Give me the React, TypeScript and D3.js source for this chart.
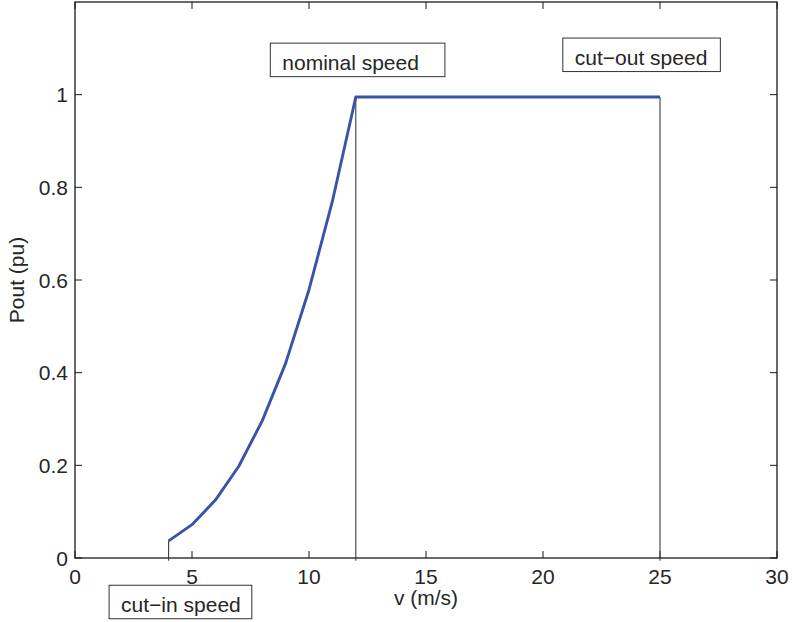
import React, { useEffect, useRef } from "react";
import * as d3 from "d3";

// wind speed (m/s) and output power (pu)
const speeds = [4, 5, 6, 7, 8, 9, 10, 11, 12, 25];
const power = [0.037, 0.072, 0.125, 0.198, 0.296, 0.42, 0.579, 0.77, 0.995, 0.995];

// vertical marker lines at cut-in, nominal and cut-out speed
const markers = [4, 12, 25];

const xTicks = [0, 5, 10, 15, 20, 25, 30];
const yTicks = [0, 0.2, 0.4, 0.6, 0.8, 1];

// text annotations (anchor in data units)
const notes = [
  { label: "cut\u2212in speed", x: 1.97, y: -0.116, padRight: 11 },
  { label: "nominal speed", x: 8.86, y: 1.054, padRight: 26 },
  { label: "cut\u2212out speed", x: 21.36, y: 1.065, padRight: 13 },
];

const App = () => {
  const ref = useRef<SVGSVGElement>(null);
  const width = 792;
  const height = 622;
  const font = "'Liberation Sans', Arial, Helvetica, sans-serif";
  const fs = 21;
  const ink = "#262626";

  useEffect(() => {
    const svg = d3.select(ref.current);
    svg.selectAll("*").remove();

    const x = d3.scaleLinear().domain([0, 30]).range([75, 777]);
    const y = d3.scaleLinear().domain([0, 1.2]).range([558, 2]);

    const g = svg.append("g");

    // frame
    g.append("rect")
      .attr("x", x(0))
      .attr("y", y(1.2))
      .attr("width", x(30) - x(0))
      .attr("height", y(0) - y(1.2))
      .attr("fill", "white")
      .attr("stroke", "#1a1a1a")
      .attr("stroke-width", 1.3);

    // inward ticks on all sides
    const tl = 7;
    xTicks.forEach((t) => {
      g.append("line").attr("x1", x(t)).attr("x2", x(t)).attr("y1", y(0)).attr("y2", y(0) - tl).attr("stroke", "#1a1a1a");
      g.append("line").attr("x1", x(t)).attr("x2", x(t)).attr("y1", y(1.2)).attr("y2", y(1.2) + tl).attr("stroke", "#1a1a1a");
      g.append("text")
        .attr("x", x(t))
        .attr("y", y(0) + 26)
        .attr("text-anchor", "middle")
        .attr("font-family", font)
        .attr("font-size", fs)
        .attr("fill", ink)
        .text(d3.format("")(t));
    });
    yTicks.forEach((t) => {
      g.append("line").attr("x1", x(0)).attr("x2", x(0) + tl).attr("y1", y(t)).attr("y2", y(t)).attr("stroke", "#1a1a1a");
      g.append("line").attr("x1", x(30)).attr("x2", x(30) - tl).attr("y1", y(t)).attr("y2", y(t)).attr("stroke", "#1a1a1a");
      g.append("text")
        .attr("x", x(0) - 7)
        .attr("y", y(t) + 7.5)
        .attr("text-anchor", "end")
        .attr("font-family", font)
        .attr("font-size", fs)
        .attr("fill", ink)
        .text(String(t));
    });

    // marker lines
    markers.forEach((m) => {
      const i = speeds.indexOf(m);
      g.append("line")
        .attr("x1", x(m))
        .attr("x2", x(m))
        .attr("y1", y(power[i]))
        .attr("y2", y(-0.006))
        .attr("stroke", "#3c3c3c")
        .attr("stroke-width", 1.1);
    });

    // power curve
    const line = d3
      .line<number>()
      .x((d, i) => x(speeds[i]))
      .y((d) => y(d));
    g.append("path")
      .datum(power)
      .attr("d", line)
      .attr("fill", "none")
      .attr("stroke", "#3953a6")
      .attr("stroke-width", 2.9)
      .attr("stroke-linejoin", "round");

    // annotations with boxes
    notes.forEach((n) => {
      const ng = g.append("g");
      const txt = ng
        .append("text")
        .attr("x", x(n.x))
        .attr("y", y(n.y))
        .attr("font-family", font)
        .attr("font-size", fs)
        .attr("fill", ink)
        .text(n.label);
      const w = (txt.node() as SVGTextElement).getComputedTextLength();
      ng.insert("rect", "text")
        .attr("x", x(n.x) - 12)
        .attr("y", y(n.y) - 26.5)
        .attr("width", w + 12 + n.padRight)
        .attr("height", 33.5)
        .attr("fill", "white")
        .attr("stroke", "#333")
        .attr("stroke-width", 1);
    });

    // axis labels
    g.append("text")
      .attr("x", (x(0) + x(30)) / 2)
      .attr("y", 605)
      .attr("text-anchor", "middle")
      .attr("font-family", font)
      .attr("font-size", fs)
      .attr("fill", ink)
      .text("v (m/s)");
    g.append("text")
      .attr("transform", `translate(24, ${(y(0) + y(1.2)) / 2}) rotate(-90)`)
      .attr("text-anchor", "middle")
      .attr("font-family", font)
      .attr("font-size", fs)
      .attr("fill", ink)
      .text("Pout (pu)");
  });

  return (
    <svg
      ref={ref}
      width={width}
      height={height}
      style={{ position: "absolute", left: 0, top: 0, background: "white" }}
    ></svg>
  );
};

export default App;
